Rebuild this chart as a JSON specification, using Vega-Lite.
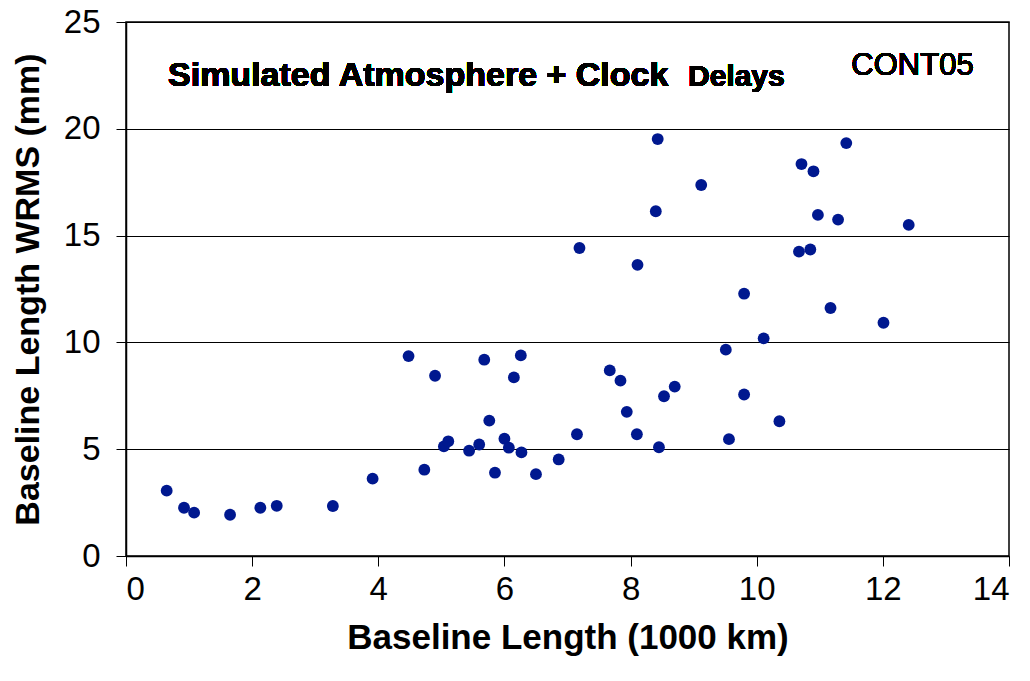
{
  "$schema": "https://vega.github.io/schema/vega-lite/v6.json",
  "width": 883,
  "height": 534,
  "autosize": {"type": "none"},
  "padding": {"left": 126, "top": 22, "right": 21, "bottom": 125},
  "background": "white",
  "config": {
    "font": "Liberation Sans",
    "view": {"stroke": "black", "strokeWidth": 1.5}
  },
  "data": {"values": [
    {"x": 0.645, "y": 3.06}, {"x": 0.92, "y": 2.26}, {"x": 1.08, "y": 2.03}, {"x": 1.65, "y": 1.93},
    {"x": 2.13, "y": 2.26}, {"x": 2.39, "y": 2.35}, {"x": 3.28, "y": 2.34}, {"x": 3.91, "y": 3.62},
    {"x": 4.48, "y": 9.36}, {"x": 4.90, "y": 8.44}, {"x": 5.68, "y": 9.19}, {"x": 6.26, "y": 9.39},
    {"x": 6.15, "y": 8.36}, {"x": 4.73, "y": 4.04}, {"x": 5.04, "y": 5.13}, {"x": 5.11, "y": 5.37},
    {"x": 5.44, "y": 4.93}, {"x": 5.60, "y": 5.22}, {"x": 5.76, "y": 6.34}, {"x": 6.00, "y": 5.49},
    {"x": 6.07, "y": 5.07}, {"x": 5.85, "y": 3.90}, {"x": 6.27, "y": 4.85}, {"x": 6.50, "y": 3.83},
    {"x": 6.86, "y": 4.52}, {"x": 8.43, "y": 19.52}, {"x": 11.42, "y": 19.33}, {"x": 10.71, "y": 18.35},
    {"x": 10.90, "y": 18.01}, {"x": 9.12, "y": 17.37}, {"x": 8.40, "y": 16.14}, {"x": 10.97, "y": 15.97},
    {"x": 11.29, "y": 15.75}, {"x": 12.41, "y": 15.50}, {"x": 7.19, "y": 14.42}, {"x": 8.11, "y": 13.63},
    {"x": 10.67, "y": 14.25}, {"x": 10.85, "y": 14.35}, {"x": 9.80, "y": 12.28}, {"x": 11.17, "y": 11.61},
    {"x": 12.01, "y": 10.92}, {"x": 10.11, "y": 10.19}, {"x": 9.51, "y": 9.66}, {"x": 7.67, "y": 8.69},
    {"x": 7.84, "y": 8.21}, {"x": 8.70, "y": 7.93}, {"x": 8.53, "y": 7.48}, {"x": 9.80, "y": 7.56},
    {"x": 7.94, "y": 6.75}, {"x": 10.36, "y": 6.31}, {"x": 7.15, "y": 5.70}, {"x": 8.10, "y": 5.70},
    {"x": 9.56, "y": 5.47}, {"x": 8.45, "y": 5.09}
  ]},
  "layer": [
    {
      "mark": {"type": "circle", "size": 140, "opacity": 1, "color": "#00188F"},
      "encoding": {
        "x": {
          "field": "x", "type": "quantitative",
          "scale": {"domain": [0, 14], "nice": false, "zero": false},
          "axis": {
            "title": "Baseline Length (1000 km)",
            "values": [0, 2, 4, 6, 8, 10, 12, 14],
            "format": "d",
            "grid": false,
            "domainColor": "black", "domainWidth": 1.5,
            "tickColor": "black", "tickSize": 10, "tickWidth": 1,
            "labelFontSize": 33, "labelColor": "black", "labelPadding": 7,
            "titleFontSize": 35, "titleFontWeight": "bold", "titleColor": "black", "titlePadding": 14
          }
        },
        "y": {
          "field": "y", "type": "quantitative",
          "scale": {"domain": [0, 25], "nice": false, "zero": false},
          "axis": {
            "title": "Baseline Length WRMS (mm)",
            "values": [0, 5, 10, 15, 20, 25],
            "format": "d",
            "grid": true, "gridColor": "black", "gridWidth": 1, "gridOpacity": 1,
            "domainColor": "black", "domainWidth": 1.5,
            "tickColor": "black", "tickSize": 10, "tickWidth": 1,
            "labelFontSize": 33, "labelColor": "black", "labelPadding": 16,
            "titleFontSize": 34, "titleFontWeight": "bold", "titleColor": "black", "titlePadding": 18
          }
        }
      }
    },
    {
      "mark": {"type": "text", "text": "Simulated Atmosphere + Clock", "align": "left", "baseline": "alphabetic", "fontSize": 34, "fontWeight": "bold", "color": "black"},
      "encoding": {"x": {"datum": 0.666}, "y": {"datum": 22.0}}
    },
    {
      "mark": {"type": "text", "text": "Delays", "align": "left", "baseline": "alphabetic", "fontSize": 30, "fontWeight": "bold", "color": "black"},
      "encoding": {"x": {"datum": 8.91}, "y": {"datum": 22.0}}
    },
    {
      "mark": {"type": "text", "text": "CONT05", "align": "left", "baseline": "alphabetic", "fontSize": 31, "color": "black"},
      "encoding": {"x": {"datum": 11.5}, "y": {"datum": 22.5}}
    }
  ]
}
